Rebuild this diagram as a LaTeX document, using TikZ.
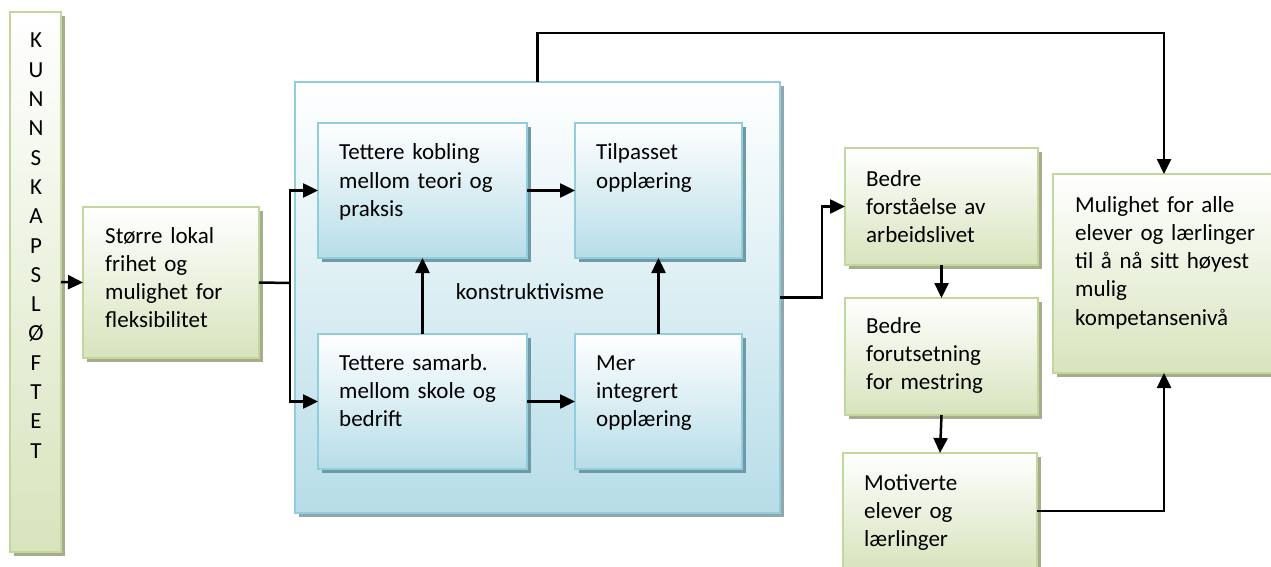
\documentclass[tikz,border=0pt]{standalone}
\usepackage{fontspec}
\setmainfont{Carlito}
\usetikzlibrary{arrows.meta,shadows}

\definecolor{gline}{HTML}{C3D69B}
\definecolor{gfill}{HTML}{D7E4BD}
\definecolor{gshade}{HTML}{A6AC8D}
\definecolor{bline}{HTML}{93CDDD}
\definecolor{bfill}{HTML}{B7DDE8}
\definecolor{bshade}{HTML}{6E9AA6}
\definecolor{cshade}{HTML}{90A8AC}

\tikzset{
  box/.style={rectangle, inner sep=0pt, outer sep=0pt, line width=2pt, anchor=north west},
  sz/.style 2 args={minimum width=#1pt, minimum height=#2pt},
  gbox/.style={box, draw=gline, top color=white, bottom color=gfill,
    drop shadow={shadow xshift=4pt, shadow yshift=-4pt, fill=gshade, opacity=1}},
  bbox/.style={box, draw=bline, top color=white, bottom color=bfill,
    drop shadow={shadow xshift=4pt, shadow yshift=-4pt, fill=bshade, opacity=1}},
  cbox/.style={box, draw=bline, top color=white, bottom color=bfill,
    drop shadow={shadow xshift=4pt, shadow yshift=-4pt, fill=cshade, opacity=1}},
  lbl/.style={font=\fontsize{23}{28.3}\selectfont, align=left, inner sep=0pt,
    anchor=base west, text width=210pt},
  conn/.style={line width=2.5pt},
  arr/.style={conn, -{Triangle[length=15pt,width=14pt]}},
}

\begin{document}
\begin{tikzpicture}[x=1pt,y=-1pt]
  \path[use as bounding box, clip] (0,0) rectangle (1271,567);

  % vertical reform bar
  \node[gbox, sz={51}{540}] (bar) at (10,12) {};
  \node[font=\fontsize{23}{29.3}\selectfont, align=center, inner sep=0pt,
    text width=30pt, anchor=base] (barlabel) at (36,48)
    {K\\U\\N\\N\\S\\K\\A\\P\\S\\L\\Ø\\F\\T\\E\\T};

  % local freedom
  \node[gbox, sz={176}{151}] (storre) at (83,207) {};
  \node[lbl] (storretxt) at (105,243) {Større lokal\\frihet og\\mulighet for\\fleksibilitet};

  % constructivism frame with its four boxes
  \node[cbox, sz={485}{431}] (cont) at (295,82) {};
  \node[bbox, sz={209}{135}] (kobling) at (318,123) {};
  \node[bbox, sz={167}{135}] (tilp) at (575,123) {};
  \node[bbox, sz={209}{135}] (samarb) at (318,334) {};
  \node[bbox, sz={167}{135}] (mer) at (575,334) {};
  \node[lbl] (koblingtxt) at (339,160) {Tettere kobling\\mellom teori og\\praksis};
  \node[lbl] (tilptxt) at (596,160) {Tilpasset\\opplæring};
  \node[lbl] (samarbtxt) at (339,370) {Tettere samarb.\\mellom skole og\\bedrift};
  \node[lbl] (mertxt) at (596,370) {Mer\\integrert\\opplæring};
  \node[font=\fontsize{23}{28.3}\selectfont, inner sep=0pt, anchor=base] (konstr) at (530,299) {konstruktivisme};

  % outcomes
  \node[gbox, sz={193}{117}] (bedre1) at (845,148) {};
  \node[gbox, sz={193}{117}] (bedre2) at (845,298) {};
  \node[gbox, sz={194}{116}] (motiv) at (843,453) {};
  \node[gbox, sz={222}{199}] (mul) at (1053,174) {};
  \node[lbl] (bedre1txt) at (866,186) {Bedre\\forståelse av\\arbeidslivet};
  \node[lbl] (bedre2txt) at (866,333) {Bedre\\forutsetning\\for mestring};
  \node[lbl] (motivtxt) at (864,490) {Motiverte\\elever og\\lærlinger};
  \node[lbl] (multxt) at (1075,212) {Mulighet for alle\\elever og lærlinger\\til å nå sitt høyest\\mulig\\kompetansenivå};

  % connectors
  \draw[arr] (bar.east) -- (storre.east -| storre.west);
  \coordinate (split) at (290,283);
  \draw[conn] (storre.east) -- (split);
  \draw[arr] (split) |- (kobling.west);
  \draw[arr] (split) |- (samarb.west);
  \draw[arr] (kobling.east) -- (tilp.west);
  \draw[arr] (samarb.east) -- (mer.west);
  \draw[arr] (samarb.north) -- (kobling.south);
  \draw[arr] (mer.north) -- (tilp.south);
  \draw[arr] (cont.north) -- ++(0,-49) -| (mul.north);
  \draw[arr] (cont.east) -- ++(42,0) |- (bedre1.west);
  \draw[arr] (bedre1.south) -- (bedre2.north);
  \draw[arr] (bedre2.south) -- (motiv.north);
  \draw[arr] (motiv.east) -| (mul.south);
\end{tikzpicture}
\end{document}
